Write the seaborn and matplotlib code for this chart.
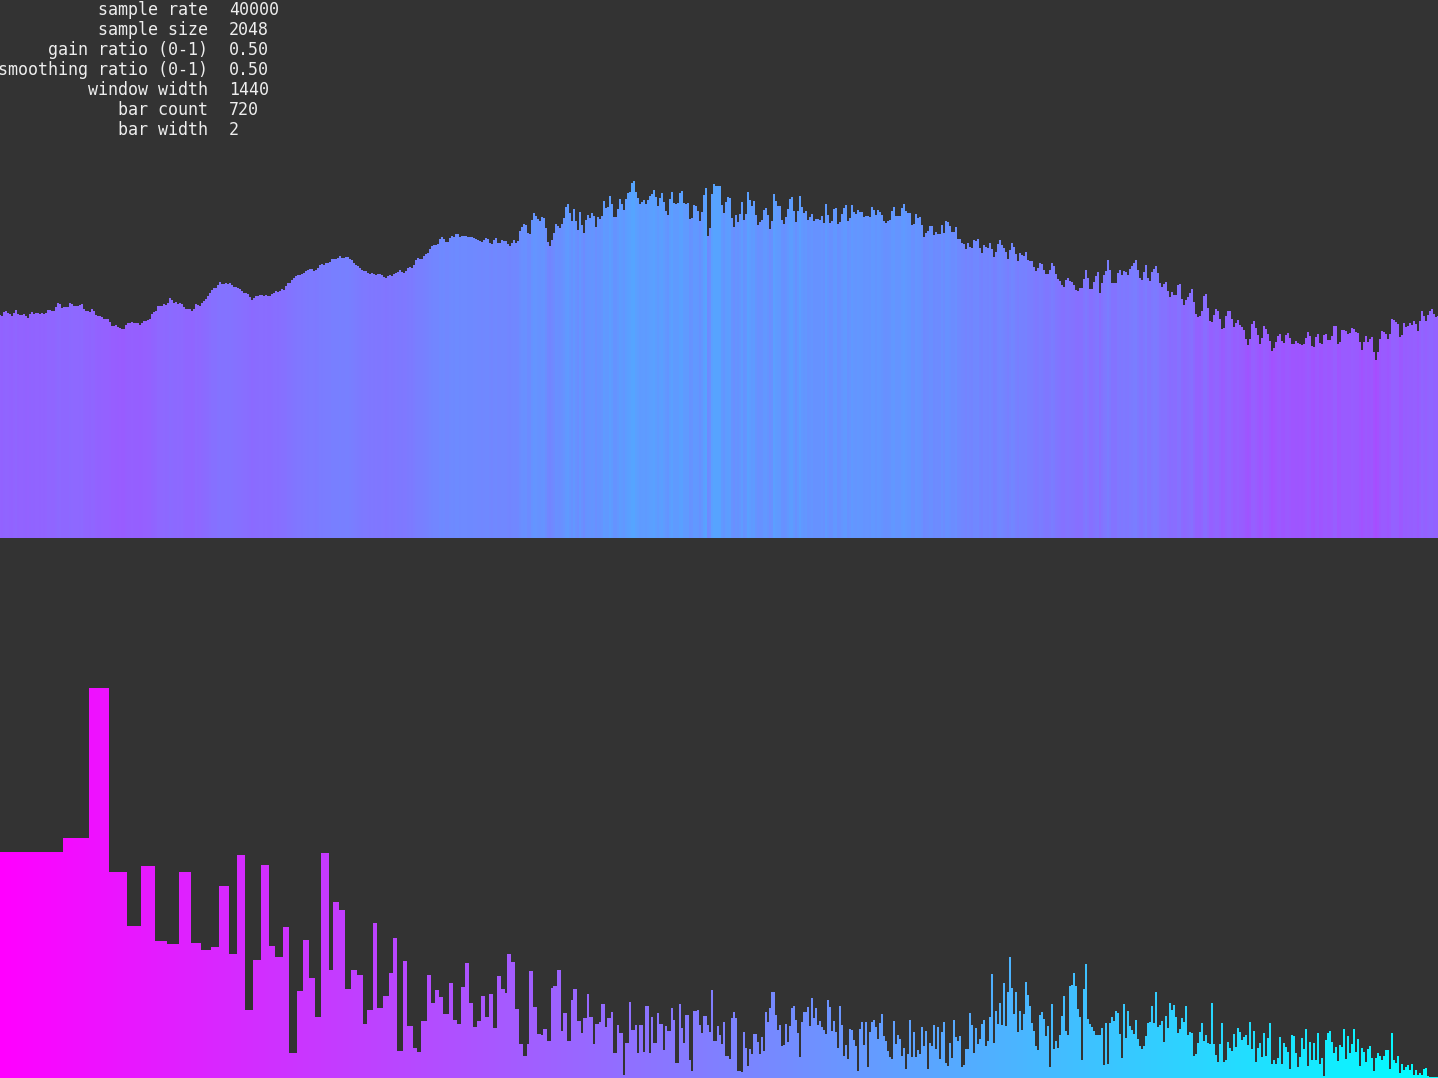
import numpy as np
import pandas as pd
import matplotlib
matplotlib.use('Agg')
import matplotlib.pyplot as plt
import matplotlib.colors as mcolors
import seaborn as sns

# settings panel (top left)
info_labels = ['sample rate', 'sample size', 'gain ratio (0-1)', 'smoothing ratio (0-1)',
               'window width', 'bar count', 'bar width']
info_values = ['40000', '2048', '0.50', '0.50', '1440', '720', '2']

# top panel: 720 bar levels (pixels above the panel floor)
top_levels = [
    223, 222, 226, 227, 225, 224, 222, 225, 228, 224, 223, 223, 224, 222, 220, 224, 226, 224, 225, 225,
    224, 225, 224, 225, 228, 228, 227, 227, 231, 235, 234, 230, 231, 231, 231, 235, 234, 232, 232, 232,
    233, 234, 229, 227, 227, 226, 229, 227, 223, 222, 222, 221, 219, 219, 219, 216, 212, 212, 213, 211,
    210, 209, 209, 213, 215, 215, 216, 215, 215, 215, 213, 215, 217, 217, 218, 219, 224, 226, 227, 232,
    232, 232, 234, 233, 235, 240, 238, 235, 236, 234, 235, 234, 231, 229, 229, 229, 227, 229, 234, 233,
    232, 235, 237, 239, 242, 245, 248, 250, 250, 253, 256, 254, 254, 255, 254, 255, 253, 251, 251, 250,
    249, 247, 245, 245, 244, 241, 238, 240, 242, 242, 243, 243, 242, 243, 242, 242, 244, 245, 247, 246,
    247, 249, 248, 252, 255, 255, 258, 260, 262, 263, 263, 264, 265, 267, 268, 269, 269, 267, 268, 270,
    273, 274, 273, 275, 275, 276, 279, 279, 279, 280, 282, 280, 280, 281, 281, 279, 278, 275, 273, 272,
    270, 268, 267, 267, 265, 264, 265, 264, 263, 264, 264, 263, 261, 260, 262, 263, 262, 264, 265, 266,
    268, 266, 265, 267, 270, 271, 270, 273, 278, 280, 279, 279, 282, 284, 285, 289, 292, 293, 293, 294,
    299, 301, 299, 296, 296, 300, 302, 301, 304, 304, 301, 302, 302, 302, 301, 301, 301, 300, 299, 298,
    297, 296, 298, 300, 299, 295, 294, 298, 300, 295, 295, 298, 297, 297, 294, 292, 295, 298, 295, 297,
    307, 311, 314, 313, 305, 304, 318, 325, 322, 319, 317, 321, 320, 310, 296, 292, 298, 305, 314, 312,
    310, 314, 320, 331, 334, 325, 317, 329, 317, 308, 326, 313, 305, 318, 323, 320, 325, 322, 311, 321,
    319, 322, 337, 330, 331, 342, 334, 321, 321, 329, 339, 334, 328, 339, 345, 346, 355, 357, 346, 340,
    334, 336, 338, 334, 338, 342, 344, 348, 341, 332, 340, 345, 336, 327, 323, 339, 346, 335, 334, 335,
    345, 347, 335, 334, 335, 319, 320, 333, 332, 327, 317, 326, 343, 350, 302, 310, 344, 354, 352, 352,
    352, 333, 325, 336, 341, 340, 320, 311, 323, 316, 324, 336, 318, 324, 346, 338, 332, 337, 323, 313,
    316, 318, 328, 330, 323, 309, 317, 344, 337, 332, 332, 318, 314, 321, 329, 339, 341, 327, 316, 327,
    342, 331, 325, 327, 318, 321, 324, 317, 319, 319, 318, 322, 315, 334, 323, 315, 317, 329, 330, 314,
    316, 324, 330, 333, 317, 320, 333, 326, 324, 328, 326, 326, 321, 322, 322, 321, 331, 328, 323, 328,
    326, 323, 317, 315, 317, 318, 327, 331, 322, 322, 322, 330, 334, 327, 325, 325, 313, 314, 324, 320,
    321, 313, 301, 305, 307, 312, 312, 303, 306, 304, 304, 313, 305, 317, 316, 312, 306, 306, 311, 299,
    299, 295, 294, 289, 295, 291, 290, 298, 297, 299, 290, 285, 293, 291, 290, 295, 289, 281, 286, 294,
    298, 293, 290, 286, 279, 288, 295, 291, 284, 277, 285, 283, 282, 286, 278, 277, 277, 271, 267, 270,
    275, 274, 268, 264, 264, 268, 275, 272, 264, 259, 257, 253, 251, 258, 260, 257, 256, 253, 248, 247,
    250, 250, 259, 268, 260, 249, 249, 256, 262, 266, 245, 255, 263, 267, 278, 268, 255, 255, 255, 265,
    268, 263, 267, 266, 263, 269, 272, 275, 278, 268, 260, 258, 266, 273, 260, 257, 266, 269, 272, 265,
    255, 251, 254, 256, 247, 241, 246, 243, 243, 253, 254, 239, 233, 238, 241, 245, 249, 236, 224, 221,
    222, 227, 242, 244, 230, 217, 216, 223, 229, 227, 219, 209, 210, 222, 227, 227, 219, 211, 215, 218,
    213, 211, 208, 199, 193, 199, 214, 217, 210, 203, 194, 200, 212, 209, 204, 197, 187, 190, 196, 202,
    204, 197, 195, 203, 205, 200, 194, 194, 197, 195, 194, 193, 194, 200, 206, 202, 192, 191, 201, 204,
    195, 194, 203, 204, 198, 198, 202, 212, 212, 194, 196, 208, 208, 207, 204, 205, 210, 209, 206, 205,
    196, 188, 196, 202, 196, 199, 201, 186, 178, 186, 199, 207, 206, 204, 199, 204, 219, 218, 216, 214,
    201, 203, 215, 211, 212, 215, 213, 217, 214, 207, 217, 227, 222, 217, 223, 227, 229, 224, 221, 222,
]

# bottom panel: low bins are shared by several bars (log frequency mapping)
low_levels = [
    226, 240, 390, 206, 152, 212, 137, 134, 206, 135, 128, 131, 192, 124, 223, 68, 118, 213, 132, 121, 151,
    25, 87, 138, 100, 61, 225, 108, 176, 168, 89, 108, 103, 54, 68, 155, 70, 82, 105, 140, 27,
    117, 52, 30, 26, 57, 103, 75, 88, 81, 64, 95, 58, 54, 91, 115, 75, 51, 57, 82, 61,
    84, 50, 102, 89, 85, 124, 116, 69, 34, 22, 34, 107, 71, 44, 43, 49, 37, 90, 92, 108,
    47, 65, 37, 78, 89, 57,
]
low_span = [
    32, 13, 10, 9, 7, 7, 6, 6, 6, 5, 5, 4, 5, 4, 4, 4, 4, 4, 3, 4, 3,
    4, 3, 3, 3, 3, 4, 2, 3, 3, 3, 3, 3, 2, 3, 2, 3, 3, 2, 2, 3,
    2, 3, 2, 2, 3, 2, 2, 2, 2, 3, 2, 2, 2, 2, 2, 2, 2, 2, 2, 2,
    2, 2, 2, 2, 1, 2, 2, 2, 2, 2, 1, 2, 2, 2, 1, 2, 2, 1, 2, 2,
    1, 2, 2, 1, 2, 2,
]
high_levels = [
    45, 60, 60, 84, 61, 61, 34, 54, 54, 56, 74, 74, 51, 60, 60, 66, 25, 25, 53, 45,
    45, 3, 35, 35, 76, 48, 48, 53, 25, 53, 53, 26, 72, 72, 25, 61, 35, 35, 65, 54,
    54, 28, 52, 47, 47, 70, 58, 15, 15, 74, 50, 35, 63, 63, 18, 7, 67, 67, 68, 53,
    45, 62, 62, 53, 46, 88, 37, 37, 52, 43, 34, 56, 22, 22, 19, 60, 66, 60, 7, 7,
    6, 46, 30, 12, 29, 24, 44, 44, 36, 24, 41, 27, 66, 56, 70, 86, 86, 63, 48, 53,
    32, 33, 54, 36, 52, 70, 72, 58, 45, 21, 56, 66, 66, 71, 52, 80, 60, 70, 53, 57,
    51, 48, 44, 78, 71, 47, 57, 46, 30, 72, 53, 22, 33, 19, 49, 48, 38, 32, 7, 49,
    56, 33, 56, 11, 46,
    56, 58, 51, 39, 55, 64, 42, 37, 27, 21, 19, 57, 34, 43, 39, 22, 30, 9, 24, 58,
    21, 46, 21, 28, 24, 51, 32, 47, 9, 35, 32, 53, 29, 51, 19, 46, 56, 15, 12, 35,
    20, 58, 41, 37, 42, 11, 13, 29, 29, 65, 53, 25, 50, 34, 39, 54, 58, 32, 37, 61,
    104, 35, 67, 54, 75, 53, 95, 52, 86, 121, 90, 64, 86, 46, 67, 48, 64, 96, 83, 72,
    55, 47, 32, 28, 63, 66, 59, 42, 52, 11, 74, 29, 37, 30, 43, 62, 82, 47, 43, 92,
    93, 105, 92, 69, 61, 18, 89, 114, 59, 54, 51, 47, 43, 43, 43, 50, 13, 55, 14, 55,
    61, 57, 67, 65, 44, 20, 74, 40, 67, 52, 48, 44, 58, 39, 32, 29, 32, 42, 55, 56,
    72, 55, 86, 51, 53,
    57, 36, 62, 50, 75, 68, 73, 61, 45, 49, 60, 56, 72, 43, 46, 45, 22, 24, 35, 46,
    55, 37, 43, 35, 34, 75, 34, 23, 16, 34, 55, 16, 18, 36, 30, 27, 44, 31, 50, 46,
    38, 41, 43, 33, 56, 29, 47, 16, 30, 35, 21, 45, 22, 40, 55, 14, 18, 14, 20, 41,
    14, 35, 31, 26, 9, 43, 42, 25, 11, 21, 40, 29, 49, 12, 36, 18, 35, 18, 45, 14,
    20, 2, 38, 45, 47, 36, 25, 31, 17, 33, 31, 49, 19, 42, 25, 34, 49, 26, 39, 12,
    30, 26, 16, 29, 32, 20, 7, 20, 25, 22, 18, 22, 28, 28, 9, 45, 18, 15, 22, 5,
    14, 8, 11, 13, 8, 14, 3, 8, 3, 5, 3, 9, 10, 2, 1, 1, 1, 1, 1,
]

bottom_levels = np.concatenate([np.repeat(low_levels, low_span), high_levels])

BG = '#333333'
sns.set_style('dark', rc={'axes.facecolor': BG, 'figure.facecolor': BG})
plt.rcParams['font.family'] = ['DejaVu Sans Mono']

W, H = 1438, 1078
fig = plt.figure(figsize=(W / 100, H / 100), dpi=100)
ax_top = fig.add_axes([0, 540 / H, 1, 538 / H])
ax_bot = fig.add_axes([0, 0, 1, 539 / H])

# top bars: colour follows the level (purple low -> blue high)
top_cmap = mcolors.LinearSegmentedColormap.from_list('top', ['#a64dff', '#55a5ff'])
top_norm = mcolors.Normalize(178, 357, clip=True)
top_colors = [top_cmap(top_norm(v)) for v in top_levels]

# bottom bars: colour follows the position (magenta -> cyan)
bot_cmap = mcolors.LinearSegmentedColormap.from_list('bot', ['#ff00ff', '#00ffff'])
bot_colors = [bot_cmap(i / 719) for i in range(len(bottom_levels))]


def draw_bars(ax, levels, colors, ymax):
    df = pd.DataFrame({'bar': [f'b{i:03d}' for i in range(len(levels))], 'level': levels})
    pal = dict(zip(df['bar'], colors))
    sns.barplot(data=df, x='bar', y='level', hue='bar', palette=pal, legend=False,
                width=1, saturation=1, linewidth=0, errorbar=None, ax=ax)
    ax.set_xlim(0, 719)
    ax.set_ylim(0, ymax)
    ax.axis('off')


draw_bars(ax_top, top_levels, top_colors, 538)
draw_bars(ax_bot, bottom_levels, bot_colors, 539)

for k, (lab, val) in enumerate(zip(info_labels, info_values)):
    yb = 1 - (15 + 20 * k) / H
    fig.text(208 / W, yb, lab, ha='right', va='baseline', fontsize=12, color='#eeeeee')
    fig.text(229 / W, yb, val, ha='left', va='baseline', fontsize=12, color='#eeeeee')

fig.savefig('out.png', dpi=100, facecolor=BG)
